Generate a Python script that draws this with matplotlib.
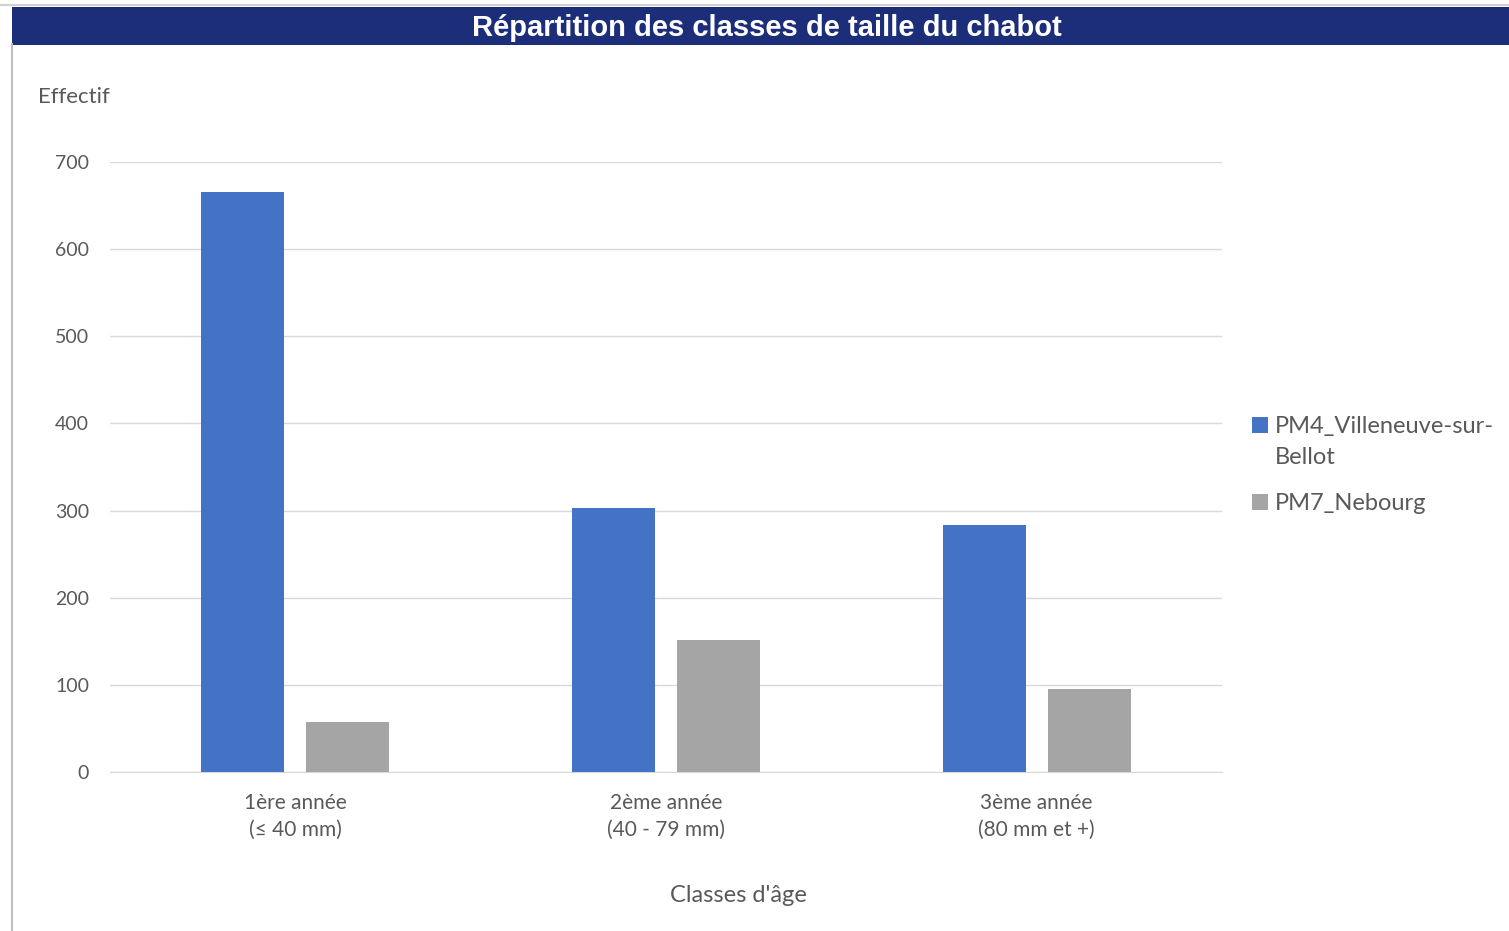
import matplotlib.pyplot as plt
import numpy as np
from matplotlib.patches import Rectangle
from matplotlib.lines import Line2D

categories = ["1ère année\n(≤ 40 mm)", "2ème année\n(40 - 79 mm)", "3ème année\n(80 mm et +)"]
series_names = ["PM4_Villeneuve-sur-\nBellot", "PM7_Nebourg"]
villeneuve = [666, 303, 284]
nebourg = [57, 151, 95]
yticks = [0, 100, 200, 300, 400, 500, 600, 700]

COLORS = ["#4472C4", "#A5A5A5"]
TXT = "#595959"
FONT = ["Lato", "DejaVu Sans"]

W, H = 1509, 931
fig = plt.figure(figsize=(W / 100, H / 100), dpi=100)

# cadre + bandeau de titre
fig.add_artist(Line2D([12 / W, 12 / W], [0, 1 - 44 / H], color="#bfbfbf", lw=1.5,
                      transform=fig.transFigure))
fig.add_artist(Line2D([0, 1], [1 - 5 / H, 1 - 5 / H], color="#d0d0d0", lw=1.5,
                      transform=fig.transFigure))
fig.add_artist(Rectangle((12 / W, 1 - 45 / H), 1, 38 / H, facecolor="#1C2E7A",
                         edgecolor="none", transform=fig.transFigure))
fig.text(767 / W, 1 - 28 / H, "Répartition des classes de taille du chabot",
         color="white", fontsize=21, fontweight="bold", family="Liberation Sans",
         ha="center", va="center")

ax = fig.add_axes([110 / W, 1 - 772 / H, 1112 / W, 610 / H])
x = np.arange(len(categories))
width = 0.224
off = 0.1416
ax.bar(x - off, villeneuve, width=width, color=COLORS[0], zorder=3)
ax.bar(x + off, nebourg, width=width, color=COLORS[1], zorder=3)

ax.set_xlim(-0.5, 2.5)
ax.set_ylim(0, 700)
ax.set_yticks(yticks)
ax.set_xticks(x)
ax.set_xticklabels(categories, family=FONT, fontsize=15, color=TXT, linespacing=1.45)
for lbl in ax.get_yticklabels():
    lbl.set_family(FONT)
    lbl.set_fontsize(14)
    lbl.set_color(TXT)
ax.tick_params(axis="both", length=0)
ax.tick_params(axis="x", pad=15)
ax.tick_params(axis="y", pad=15)
ax.grid(axis="y", color="#d9d9d9", lw=1, zorder=0)
for s in ["top", "right", "left"]:
    ax.spines[s].set_visible(False)
ax.spines["bottom"].set_color("#d9d9d9")

fig.text(38 / W, 1 - 97 / H, "Effectif", family=FONT, fontsize=16, color=TXT,
         ha="left", va="center")
fig.text(738 / W, 1 - 896 / H, "Classes d'âge", family=FONT, fontsize=17, color=TXT,
         ha="center", va="center")

# légende
leg_y = [425, 502]
for name, col, yy in zip(series_names, COLORS, leg_y):
    fig.add_artist(Rectangle((1252 / W, 1 - (yy + 8) / H), 16 / W, 16 / H,
                             facecolor=col, edgecolor="none", transform=fig.transFigure))
    fig.text(1275 / W, 1 - (yy - 9) / H, name, family=FONT, fontsize=17, color=TXT,
             ha="left", va="top", linespacing=1.6)

fig.savefig("out.png", dpi=100)
